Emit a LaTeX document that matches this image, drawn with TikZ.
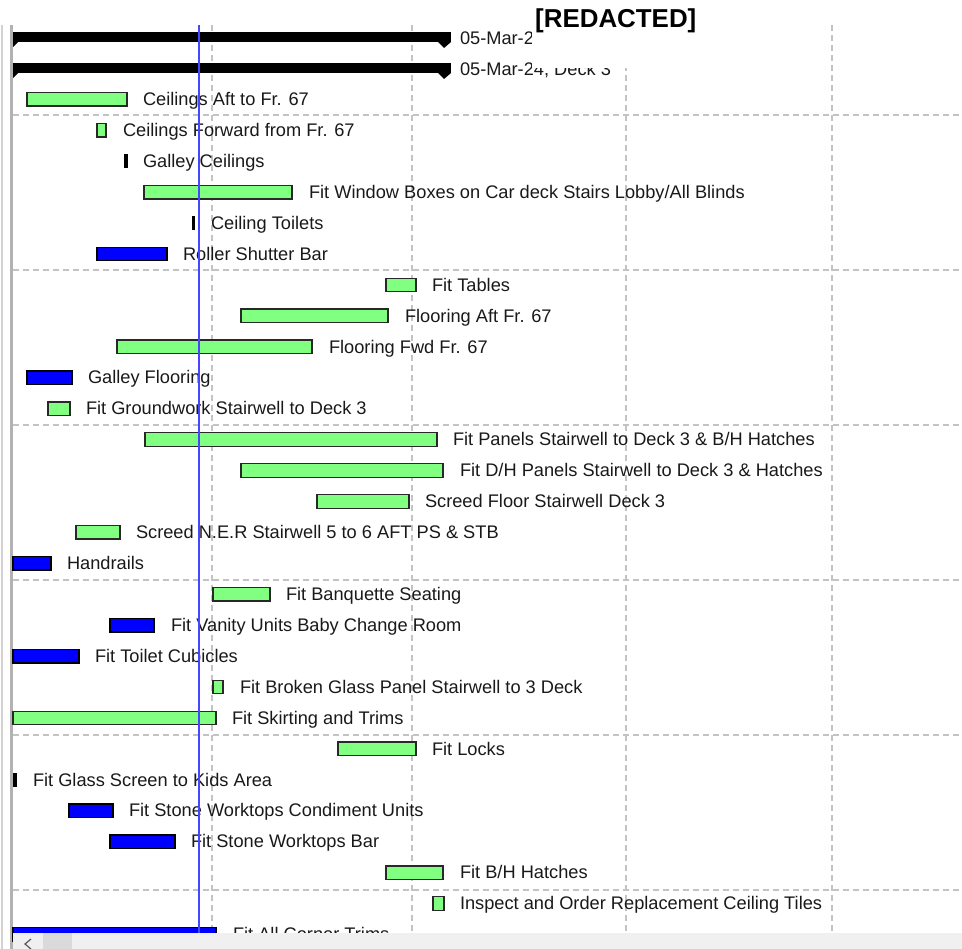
\documentclass[tikz,border=0pt]{standalone}
\usepackage{fontspec}
\setmainfont{Liberation Sans}
\definecolor{bargreen}{RGB}{128,255,128}
\definecolor{barblue}{RGB}{0,0,255}
\definecolor{gridgray}{RGB}{195,195,195}
\definecolor{todayblue}{RGB}{70,70,255}
\definecolor{txt}{RGB}{25,25,25}
\definecolor{scrollbg}{RGB}{240,240,240}
\definecolor{thumb}{RGB}{218,218,218}
\tikzset{
  barbase/.style={draw={rgb,255:red,40;green,40;blue,40}, line width=1.3bp, inner sep=0pt, outer sep=0pt, minimum height=13.5bp},
  greenbar/.style={barbase, fill=bargreen},
  bluebar/.style={barbase, fill=barblue, draw=black},
  tickbar/.style={fill=black, inner sep=0pt, outer sep=0pt, minimum height=14bp},
  lbl/.style={inner sep=0pt, outer sep=0pt, text=txt, font=\fontsize{18.3}{21}\selectfont, anchor=base west},
  grid/.style={gridgray, line width=1.1bp, dash pattern=on 6bp off 4bp},
}
\newcommand\task[7]{%
  \node[#5, minimum width={(#3-#2)*1bp}, anchor=west] (#1) at (#2,{37.5+30.93*#4}) {};
  \node[lbl] (#1l) at (#6,{37.5+30.93*#4+6.2}) {#7};}
\begin{document}
\begin{tikzpicture}[x=1bp,y=-1bp]
\useasboundingbox (0,0) rectangle (962,949);
% left frame lines
\draw[gray!35, line width=2bp] (2,25) -- (2,949);
\draw[gray!60, line width=2.5bp] (11.5,25) -- (11.5,949);
% grid
\foreach \gx in {212,412,626,832} \draw[grid] (\gx,25) -- (\gx,933);
\foreach \gy in {115,270,425,580,735,890} \draw[grid] (13,\gy) -- (962,\gy);
% summary bars
\fill[black] (13,32) rectangle (451,42);
\fill[black] (13,42) -- (18,42) -- (13,47) -- cycle;
\fill[black] (438,42) -- (451,42) -- (444,48) -- cycle;
\node[lbl] (s0) at (460,44) {05-Mar-24};
\fill[black] (13,63) rectangle (451,73);
\fill[black] (13,73) -- (18,73) -- (13,78) -- cycle;
\fill[black] (438,73) -- (451,73) -- (444,79) -- cycle;
\node[lbl] (s1) at (460,75) {05-Mar-24, Deck 3};
% tasks
\task{t2}{27}{127}{2}{greenbar}{143}{Ceilings Aft to Fr. 67}
\task{t3}{97}{106}{3}{greenbar}{123}{Ceilings Forward from Fr. 67}
\task{t4}{124}{128}{4}{tickbar}{143}{Galley Ceilings}
\task{t5}{144}{292}{5}{greenbar}{309}{Fit Window Boxes on Car deck Stairs Lobby/All Blinds}
\task{t6}{192}{194.5}{6}{tickbar}{211}{Ceiling Toilets}
\task{t7}{97}{167}{7}{bluebar}{183}{Roller Shutter Bar}
\task{t8}{386}{416}{8}{greenbar}{432}{Fit Tables}
\task{t9}{241}{388}{9}{greenbar}{405}{Flooring Aft Fr. 67}
\task{t10}{117}{312}{10}{greenbar}{329}{Flooring Fwd Fr. 67}
\task{t11}{27}{72}{11}{bluebar}{88}{Galley Flooring}
\task{t12}{48}{70}{12}{greenbar}{86}{Fit Groundwork Stairwell to Deck 3}
\task{t13}{145}{437}{13}{greenbar}{453}{Fit Panels Stairwell to Deck 3 \& B/H Hatches}
\task{t14}{241}{443}{14}{greenbar}{460}{Fit D/H Panels Stairwell to Deck 3 \& Hatches}
\task{t15}{317}{409}{15}{greenbar}{425}{Screed Floor Stairwell Deck 3}
\task{t16}{76}{120}{16}{greenbar}{136}{Screed N.E.R Stairwell 5 to 6 AFT PS \& STB}
\task{t17}{13}{51}{17}{bluebar}{67}{Handrails}
\task{t18}{213}{270}{18}{greenbar}{286}{Fit Banquette Seating}
\task{t19}{110}{154}{19}{bluebar}{171}{Fit Vanity Units Baby Change Room}
\task{t20}{13}{79}{20}{bluebar}{95}{Fit Toilet Cubicles}
\task{t21}{213}{223}{21}{greenbar}{240}{Fit Broken Glass Panel Stairwell to 3 Deck}
\task{t22}{13}{216}{22}{greenbar}{232}{Fit Skirting and Trims}
\task{t23}{338}{416}{23}{greenbar}{432}{Fit Locks}
\task{t24}{13}{17}{24}{tickbar}{33}{Fit Glass Screen to Kids Area}
\task{t25}{69}{113}{25}{bluebar}{129}{Fit Stone Worktops Condiment Units}
\task{t26}{110}{175}{26}{bluebar}{191}{Fit Stone Worktops Bar}
\task{t27}{386}{443}{27}{greenbar}{460}{Fit B/H Hatches}
\task{t28}{433}{444}{28}{greenbar}{460}{Inspect and Order Replacement Ceiling Tiles}
\task{t29}{13}{216}{29}{bluebar}{233}{Fit All Corner Trims}
% today line
\draw[todayblue, line width=1.5bp] (199,25) -- (199,933);
% redaction
\fill[white] (532,0) rectangle (705,68);
\node[inner sep=0pt, anchor=base west, font=\fontsize{26}{30}\selectfont\bfseries] (red) at (535,27) {[REDACTED]};
% scrollbar
\fill[scrollbg] (13,933) rectangle (962,949);
\fill[thumb] (43,933) rectangle (72,949);
\draw[gray!70!black, line width=1.2bp] (31,939) -- (25,944) -- (31,949);
\end{tikzpicture}
\end{document}
